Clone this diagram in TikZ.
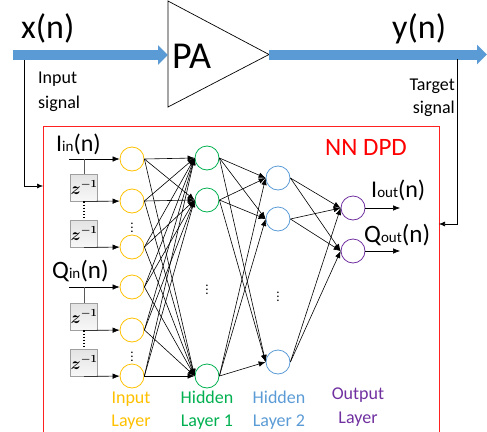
\documentclass[tikz,border=0pt]{standalone}
\usepackage{fontspec}
\setmainfont{Carlito}
\usetikzlibrary{arrows.meta}
\definecolor{cin}{HTML}{FFC000}
\definecolor{chid}{HTML}{00B050}
\definecolor{chid2}{HTML}{5B9BD5}
\definecolor{cout}{HTML}{7030A0}
\definecolor{cblue}{HTML}{5B9BD5}
\definecolor{cred}{HTML}{FF2020}
\tikzset{
  neuron/.style={circle, draw, line width=0.8pt, minimum size=24pt, inner sep=0pt},
  conn/.style={-{Latex[length=7pt,width=5.5pt]}, line width=0.6pt},
  sig/.style={-{Latex[length=6pt,width=5pt]}, line width=0.6pt},
  bigarrow/.style={draw=cblue, line width=10pt, -{Triangle[length=10pt,width=19pt]}},
  zbox/.style={draw=gray!75, line width=0.8pt, top color=gray!22, bottom color=gray!6, minimum width=24pt, minimum height=27pt, inner sep=0pt, font=\fontsize{16}{16}\selectfont\boldmath},
  dots/.style={inner sep=0pt, font=\fontsize{13}{13}\selectfont},
  lbl/.style={anchor=base, inner sep=0pt, font=\fontsize{18}{18}\selectfont},
  big/.style={anchor=base west, inner sep=0pt, font=\fontsize{34}{34}\selectfont},
}
\newcommand{\subsz}[1]{{\fontsize{15}{15}\selectfont #1}}
\begin{document}
\begin{tikzpicture}[x=1pt,y=-1pt]
\useasboundingbox (0,0) rectangle (487,431);

% top signal path
\coordinate (xin) at (13,55);
\coordinate (paIn) at (168,55);
\coordinate (paOut) at (269,54.5);
\coordinate (yout) at (487,54.5);
\draw[line width=0.7pt] (168,1) -- (168,107) -- (paOut) -- cycle;
\draw[bigarrow] (xin) -- (paIn);
\draw[bigarrow] (paOut) -- (yout);
\node[big] (xn) at (21,38) {x(n)};
\node[big] (yn) at (392,38) {y(n)};
\node[anchor=base west, inner sep=0pt, font=\fontsize{38}{38}\selectfont] (pa) at (172,68) {PA};

\node[lbl, anchor=base west] (ins1) at (38,83) {Input};
\node[lbl, anchor=base west] (ins2) at (38,108) {signal};
\node[lbl, anchor=base east] (ts1) at (455,90) {Target};
\node[lbl, anchor=base east] (ts2) at (455,113) {signal};

% NN DPD box
\draw[cred, line width=1pt] (43,432) |- (439,126) -- (439,432);
\node[anchor=base west, inner sep=0pt, text=red, font=\fontsize{25}{25}\selectfont] (nndpd) at (325,155) {NN DPD};

\coordinate (tapIn) at (24,60);
\coordinate (boxIn) at (43,186);
\coordinate (tapOut) at (457,59);
\coordinate (boxOut) at (439,224);
\draw[sig] (tapIn) |- (boxIn);
\draw[sig] (tapOut) |- (boxOut);

% neurons
\foreach \n/\y in {1/159,2/201,3/247,4/287,5/330,6/376}
  \node[neuron, draw=cin] (i\n) at (132,\y) {};
\foreach \n/\y in {1/158,2/200,3/376}
  \node[neuron, draw=chid] (h\n) at (207,\y) {};
\foreach \n/\y in {1/178,2/219,3/362}
  \node[neuron, draw=chid2] (g\n) at (278,\y) {};
\foreach \n/\y in {1/208,2/251}
  \node[neuron, draw=cout] (o\n) at (353,\y) {};

\node[dots] (d1) at (132,225) {$\vdots$};
\node[dots] (d2) at (132,354) {$\vdots$};
\node[dots] (d3) at (207,287) {$\vdots$};
\node[dots] (d4) at (278,294) {$\vdots$};

% connections
\foreach \a in {1,...,6}
  \foreach \b in {1,2,3}
    \draw[conn] (i\a.east) -- (h\b.west);
\foreach \a in {1,2,3}
  \foreach \b in {1,2,3}
    \draw[conn] (h\a.east) -- (g\b.west);
\foreach \a in {1,2,3}
  \foreach \b in {1,2}
    \draw[conn] (g\a.east) -- (o\b.west);

% delay lines
\node[zbox] (z1) at (84,187.5) {$z^{-1}$};
\node[zbox] (z2) at (84,233.5) {$z^{-1}$};
\node[zbox] (z3) at (84,316.5) {$z^{-1}$};
\node[zbox] (z4) at (84,362.5) {$z^{-1}$};
\coordinate (iinS) at (69,159);
\coordinate (ibr) at (84,159);
\coordinate (qinS) at (69,287);
\coordinate (qbr) at (84,287);
\draw[conn] (iinS) -- (i1);
\draw[conn] (qinS) -- (i4);
\draw[gray!70!black, line width=0.8pt] (ibr) -- (z1.north);
\draw[gray!70!black, line width=0.8pt] (qbr) -- (z3.north);
\draw[conn] (z1.south) -- (i2);
\draw[conn] (z2.south) -- (i3);
\draw[conn] (z3.south) -- (i5);
\draw[conn] (z4.south) -- (i6);
\draw[dotted, line width=1.1pt] (z1.south) -- (z2.north);
\draw[dotted, line width=1.1pt] (z3.south) -- (z4.north);

\node[anchor=base west, inner sep=0pt, font=\fontsize{24}{24}\selectfont] (iin) at (56,151) {I\subsz{in}(n)};
\node[anchor=base west, inner sep=0pt, font=\fontsize{25}{25}\selectfont] (qin) at (52,278) {Q\subsz{in}(n)};

% outputs
\coordinate (oe1) at (400,208);
\coordinate (oe2) at (400,251);
\draw[conn] (o1) -- (oe1);
\draw[conn] (o2) -- (oe2);
\node[anchor=base west, inner sep=0pt, font=\fontsize{24}{24}\selectfont] (iout) at (371,197) {I\subsz{out}(n)};
\node[anchor=base west, inner sep=0pt, font=\fontsize{25}{25}\selectfont] (qout) at (364,242) {Q\subsz{out}(n)};

% layer labels
\node[lbl, text=cin] (l1a) at (131,403) {Input};
\node[lbl, text=cin] (l1b) at (131,426) {Layer};
\node[lbl, text=chid] (l2a) at (207,403) {Hidden};
\node[lbl, text=chid] (l2b) at (207,426) {Layer 1};
\node[lbl, text=chid2] (l3a) at (279,403) {Hidden};
\node[lbl, text=chid2] (l3b) at (279,426) {Layer 2};
\node[lbl, text=cout] (l4a) at (358,399) {Output};
\node[lbl, text=cout] (l4b) at (358,423) {Layer};
\end{tikzpicture}
\end{document}
